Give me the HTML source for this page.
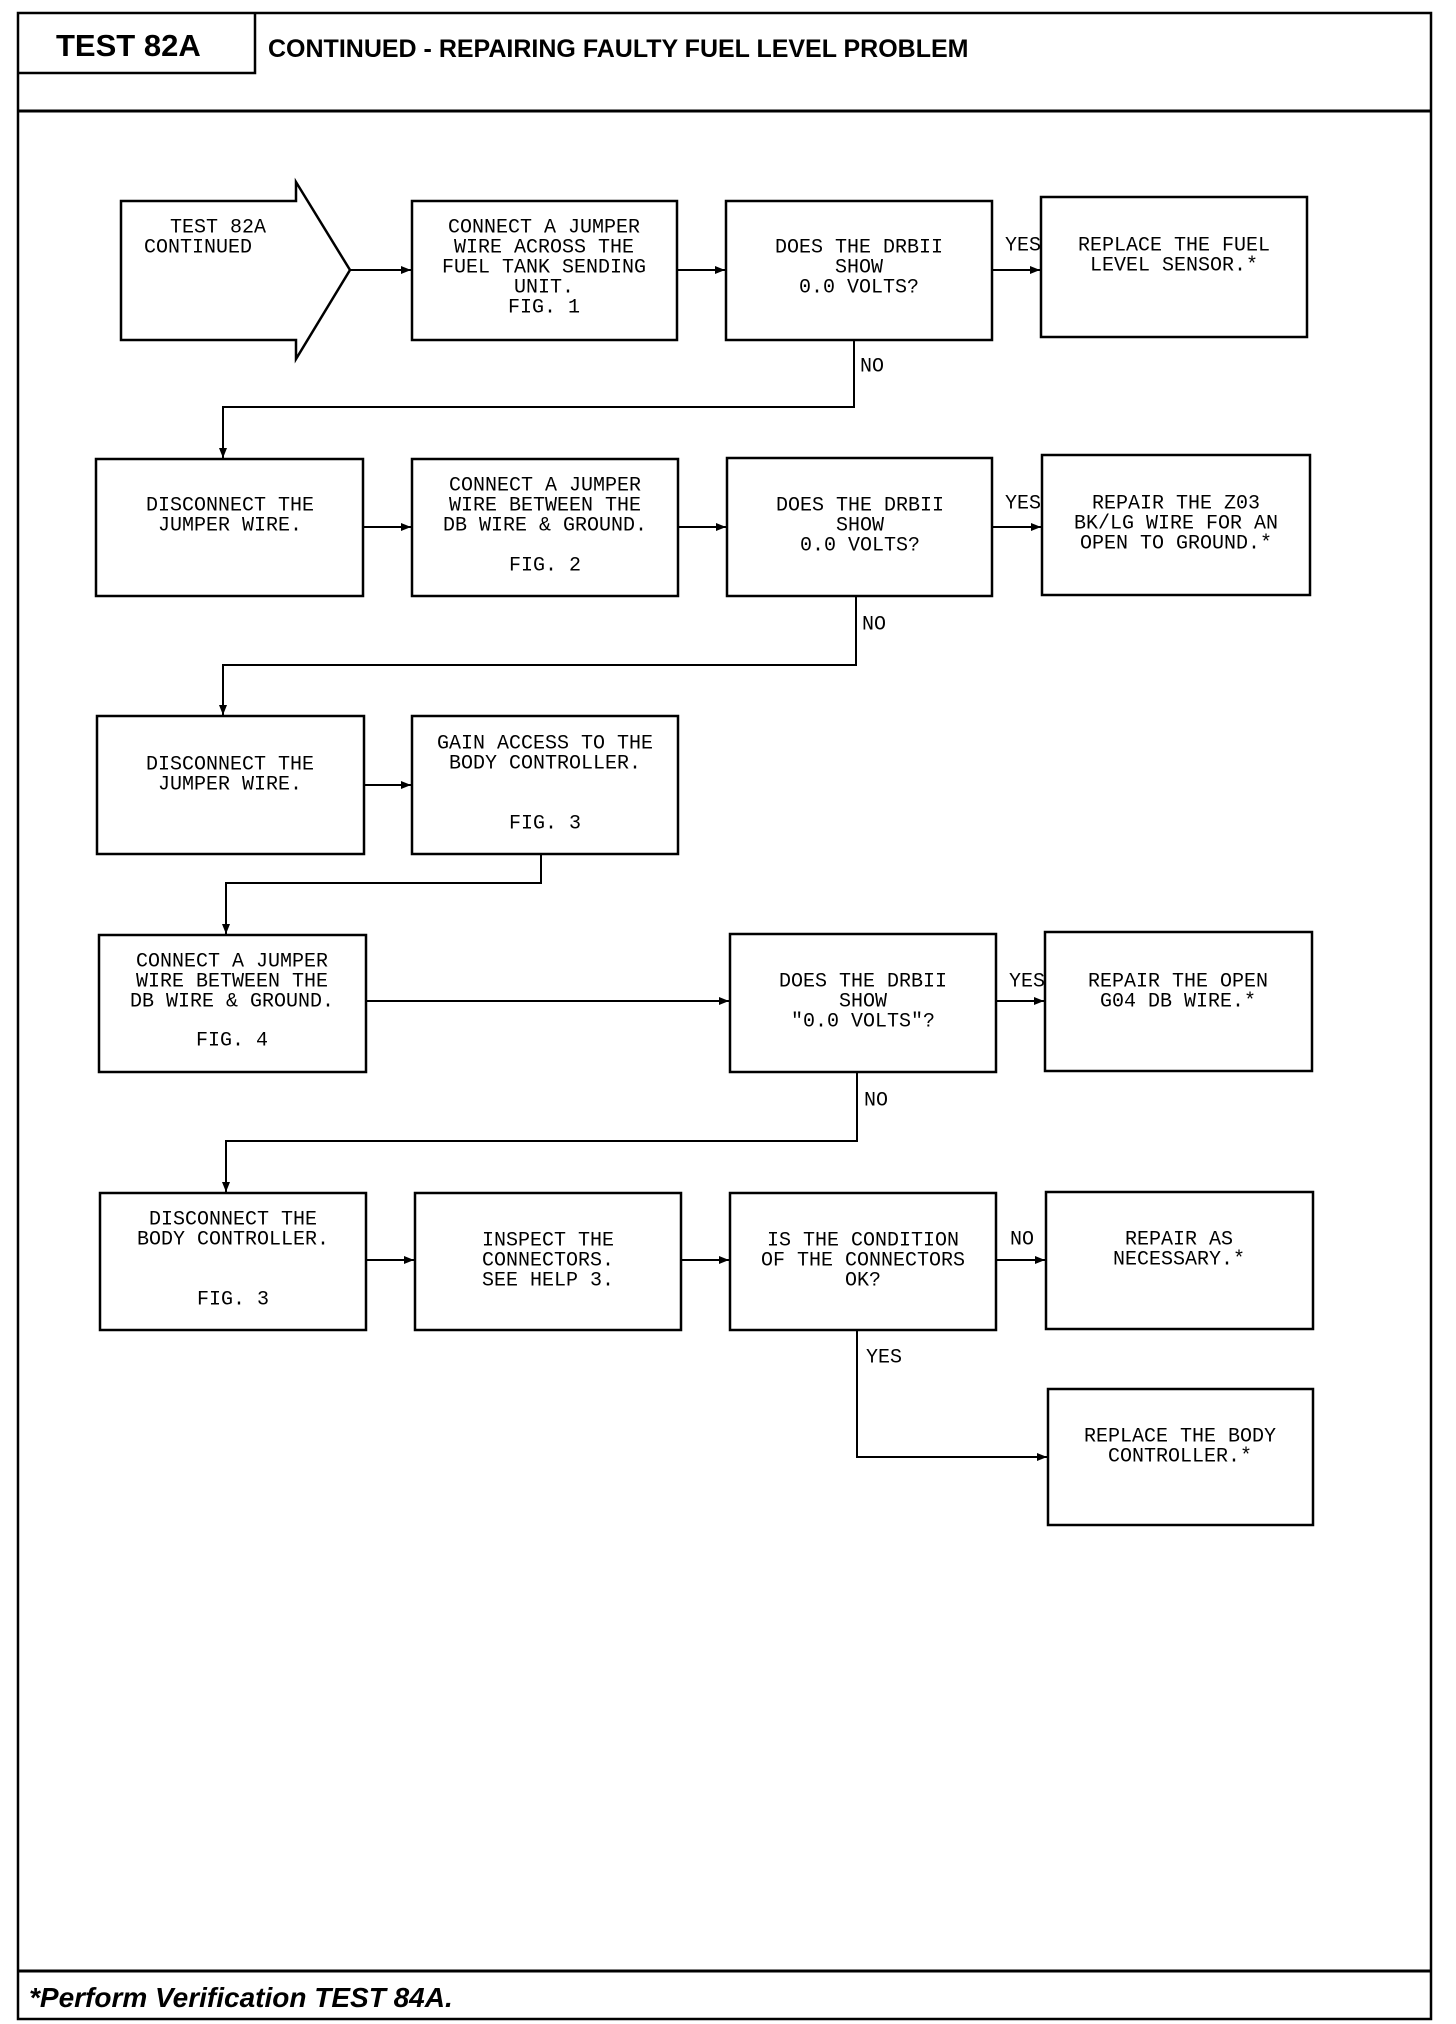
<!DOCTYPE html>
<html><head><meta charset="utf-8"><style>
html,body{margin:0;padding:0;background:#fff}
svg{display:block}
.t{font-family:"Liberation Mono",monospace;font-size:20px;fill:#000}
.h{font-family:"Liberation Sans",sans-serif;font-weight:bold;fill:#000}
</style></head><body>
<svg width="1456" height="2024" viewBox="0 0 1456 2024" xmlns="http://www.w3.org/2000/svg">
<defs><marker id="a" markerWidth="10" markerHeight="8" refX="10" refY="4" orient="auto" markerUnits="userSpaceOnUse"><path d="M0,0 L10,4 L0,8 z" fill="#000"/></marker></defs>
<g fill="none" stroke="#000" stroke-width="2.5">
<rect x="18" y="13" width="1413" height="2006"/>
<line x1="18" y1="111" x2="1431" y2="111" stroke-width="3"/>
<polyline points="18,73 255,73 255,13"/>
<line x1="18" y1="1971" x2="1431" y2="1971" stroke-width="3"/>
<polygon points="121,201 296,201 296,182 350,270 296,359 296,340 121,340"/>
<rect x="412" y="201" width="265" height="139"/>
<rect x="726" y="201" width="266" height="139"/>
<rect x="1041" y="197" width="266" height="140"/>
<rect x="96" y="459" width="267" height="137"/>
<rect x="412" y="459" width="266" height="137"/>
<rect x="727" y="458" width="265" height="138"/>
<rect x="1042" y="455" width="268" height="140"/>
<rect x="97" y="716" width="267" height="138"/>
<rect x="412" y="716" width="266" height="138"/>
<rect x="99" y="935" width="267" height="137"/>
<rect x="730" y="934" width="266" height="138"/>
<rect x="1045" y="932" width="267" height="139"/>
<rect x="100" y="1193" width="266" height="137"/>
<rect x="415" y="1193" width="266" height="137"/>
<rect x="730" y="1193" width="266" height="137"/>
<rect x="1046" y="1192" width="267" height="137"/>
<rect x="1048" y="1389" width="265" height="136"/>
</g>
<g fill="none" stroke="#000" stroke-width="2" marker-end="url(#a)">
<line x1="350" y1="270" x2="411" y2="270"/>
<line x1="677" y1="270" x2="725" y2="270"/>
<line x1="992" y1="270" x2="1040" y2="270"/>
<polyline points="854,340 854,407 223,407 223,458"/>
<line x1="363" y1="527" x2="411" y2="527"/>
<line x1="678" y1="527" x2="726" y2="527"/>
<line x1="992" y1="527" x2="1041" y2="527"/>
<polyline points="856,596 856,665 223,665 223,715"/>
<line x1="364" y1="785" x2="411" y2="785"/>
<polyline points="541,854 541,883 226,883 226,934"/>
<line x1="366" y1="1001" x2="729" y2="1001"/>
<line x1="996" y1="1001" x2="1044" y2="1001"/>
<polyline points="857,1072 857,1141 226,1141 226,1192"/>
<line x1="366" y1="1260" x2="414" y2="1260"/>
<line x1="681" y1="1260" x2="729" y2="1260"/>
<line x1="996" y1="1260" x2="1045" y2="1260"/>
<polyline points="857,1330 857,1457 1047,1457"/>
</g>
<text class="h" x="56" y="56" font-size="31">TEST 82A</text>
<text class="h" x="268" y="57" font-size="25">CONTINUED - REPAIRING FAULTY FUEL LEVEL PROBLEM</text>
<text class="h" x="29" y="2007" font-size="28" font-style="italic">*Perform Verification TEST 84A.</text>
<g class="t" dominant-baseline="central">
<text x="170" y="228">TEST 82A</text>
<text x="144" y="248">CONTINUED</text>
<text x="1005" y="246">YES</text>
<text x="860" y="367">NO</text>
<text x="1005" y="504">YES</text>
<text x="862" y="625">NO</text>
<text x="1009" y="982">YES</text>
<text x="864" y="1101">NO</text>
<text x="1010" y="1240">NO</text>
<text x="866" y="1358">YES</text>
</g>
<g class="t" text-anchor="middle" dominant-baseline="central">
<text x="544" y="228">CONNECT A JUMPER</text><text x="544" y="248">WIRE ACROSS THE</text><text x="544" y="268">FUEL TANK SENDING</text><text x="544" y="288">UNIT.</text><text x="544" y="308">FIG. 1</text>
<text x="859" y="248">DOES THE DRBII</text><text x="859" y="268">SHOW</text><text x="859" y="288">0.0 VOLTS?</text>
<text x="1174" y="246">REPLACE THE FUEL</text><text x="1174" y="266">LEVEL SENSOR.*</text>
<text x="230" y="506">DISCONNECT THE</text><text x="230" y="526">JUMPER WIRE.</text>
<text x="545" y="486">CONNECT A JUMPER</text><text x="545" y="506">WIRE BETWEEN THE</text><text x="545" y="526">DB WIRE &amp; GROUND.</text><text x="545" y="566">FIG. 2</text>
<text x="860" y="506">DOES THE DRBII</text><text x="860" y="526">SHOW</text><text x="860" y="546">0.0 VOLTS?</text>
<text x="1176" y="504">REPAIR THE Z03</text><text x="1176" y="524">BK/LG WIRE FOR AN</text><text x="1176" y="544">OPEN TO GROUND.*</text>
<text x="230" y="765">DISCONNECT THE</text><text x="230" y="785">JUMPER WIRE.</text>
<text x="545" y="744">GAIN ACCESS TO THE</text><text x="545" y="764">BODY CONTROLLER.</text><text x="545" y="824">FIG. 3</text>
<text x="232" y="962">CONNECT A JUMPER</text><text x="232" y="982">WIRE BETWEEN THE</text><text x="232" y="1002">DB WIRE &amp; GROUND.</text><text x="232" y="1041">FIG. 4</text>
<text x="863" y="982">DOES THE DRBII</text><text x="863" y="1002">SHOW</text><text x="863" y="1022">"0.0 VOLTS"?</text>
<text x="1178" y="982">REPAIR THE OPEN</text><text x="1178" y="1002">G04 DB WIRE.*</text>
<text x="233" y="1220">DISCONNECT THE</text><text x="233" y="1240">BODY CONTROLLER.</text><text x="233" y="1300">FIG. 3</text>
<text x="548" y="1241">INSPECT THE</text><text x="548" y="1261">CONNECTORS.</text><text x="548" y="1281">SEE HELP 3.</text>
<text x="863" y="1241">IS THE CONDITION</text><text x="863" y="1261">OF THE CONNECTORS</text><text x="863" y="1281">OK?</text>
<text x="1179" y="1240">REPAIR AS</text><text x="1179" y="1260">NECESSARY.*</text>
<text x="1180" y="1437">REPLACE THE BODY</text><text x="1180" y="1457">CONTROLLER.*</text>
</g>
</svg>
</body></html>
